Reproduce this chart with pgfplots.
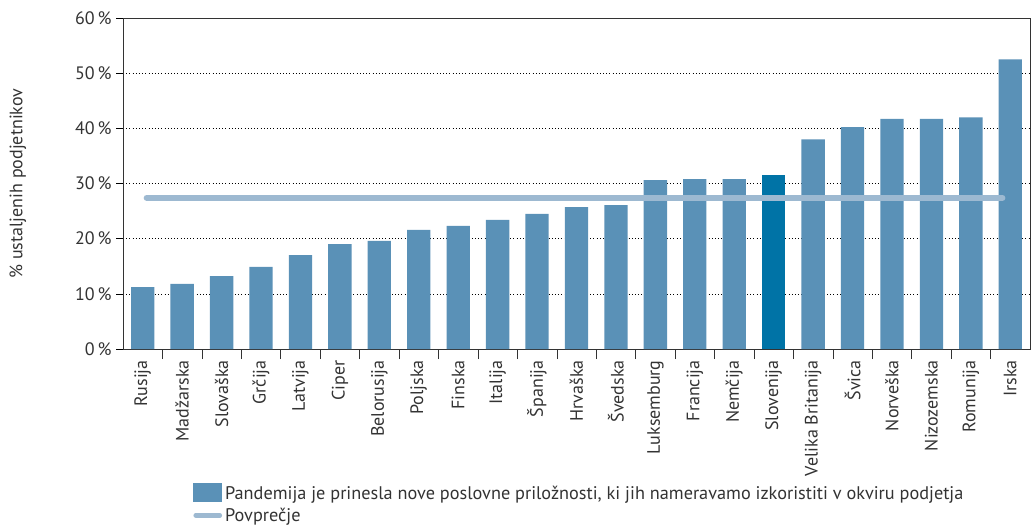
\documentclass[border=0pt]{standalone}
\usepackage{pgfplots}
\pgfplotsset{compat=1.18}
\usepackage{fontspec}
\setmainfont{PT Sans}
\definecolor{barblue}{HTML}{5A91B7}
\definecolor{slo}{HTML}{0073A6}
\definecolor{avg}{HTML}{9DB9D1}
\definecolor{txt}{HTML}{333333}
\begin{document}
\begin{tikzpicture}[x=0.75pt,y=0.75pt]
\begin{axis}[
  scale only axis,
  width=680.25pt, height=248.25pt,
  xmin=-0.5, xmax=22.5,
  ymin=0, ymax=60,
  ytick={0,10,...,60},
  yticklabel={\pgfmathprintnumber{\tick}\,\%},
  /pgf/number format/assume math mode=true,
  xtick={0,...,22},
  xticklabels={Rusija,Madžarska,Slovaška,Grčija,Latvija,Ciper,Belorusija,Poljska,Finska,Italija,Španija,Hrvaška,Švedska,Luksemburg,Francija,Nemčija,Slovenija,Velika Britanija,Švica,Norveška,Nizozemska,Romunija,Irska},
  minor xtick={0.5,1.5,...,21.5},
  x tick label style={rotate=90, anchor=east, font=\fontsize{13.5}{15}\selectfont, text=txt},
  y tick label style={font=\fontsize{13.5}{15}\selectfont, text=txt},
  tick align=outside,
  tick pos=left,
  xtick style={draw=none},
  minor x tick style={draw=txt, thin},
  minor tick length=7.5pt,
  ytick style={draw=black, thin},
  major tick length=5pt,
  ymajorgrids,
  grid style={dotted, black, thin},
  axis line style={draw=txt, thin},
  ylabel={\% ustaljenih podjetnikov},
  ylabel style={at={(axis description cs:-0.116,0.5)}, anchor=center, font=\fontsize{13.5}{15}\selectfont, text=txt},
  legend style={at={(axis description cs:0.077,-0.405)}, anchor=north west, draw=none, fill=none,
    font=\fontsize{13.7}{15}\selectfont, text=txt, row sep=0.5pt, inner sep=0pt,
    cells={anchor=west}},
  legend cell align=left,
  clip=false,
]
\coordinate (ll) at (rel axis cs:0,0);
\coordinate (ur) at (rel axis cs:1,1);
\addplot[ybar, bar width=17.5pt, fill=barblue, draw=none,
  legend image code/.code={\fill[barblue] (0pt,-6pt) rectangle (22pt,8pt);}]
  coordinates {(0,11.2)(1,11.8)(2,13.2)(3,14.9)(4,17.0)(5,19.0)(6,19.6)(7,21.6)(8,22.3)(9,23.4)(10,24.5)(11,25.7)(12,26.1)(13,30.6)(14,30.8)(15,30.8)(17,38.0)(18,40.2)(19,41.7)(20,41.7)(21,42.0)(22,52.5)};
\addlegendentry{Pandemija je prinesla nove poslovne priložnosti, ki jih nameravamo izkoristiti v okviru podjetja}
\addplot[ybar, bar width=17.5pt, fill=slo, draw=none, forget plot]
  coordinates {(16,31.5)};
\addplot[avg, line width=4.5pt, line cap=round,
  legend image code/.code={\draw[avg, line width=3.5pt, line cap=round] (2pt,0pt) -- (20pt,0pt);}]
  coordinates {(0.1,27.4)(21.8,27.4)};
\addlegendentry{Povprečje}
\end{axis}
\pgfresetboundingbox
\path ([shift={(-92.25pt,-134.25pt)}]ll) rectangle ([shift={(0.75pt,13.5pt)}]ur);
\end{tikzpicture}
\end{document}
